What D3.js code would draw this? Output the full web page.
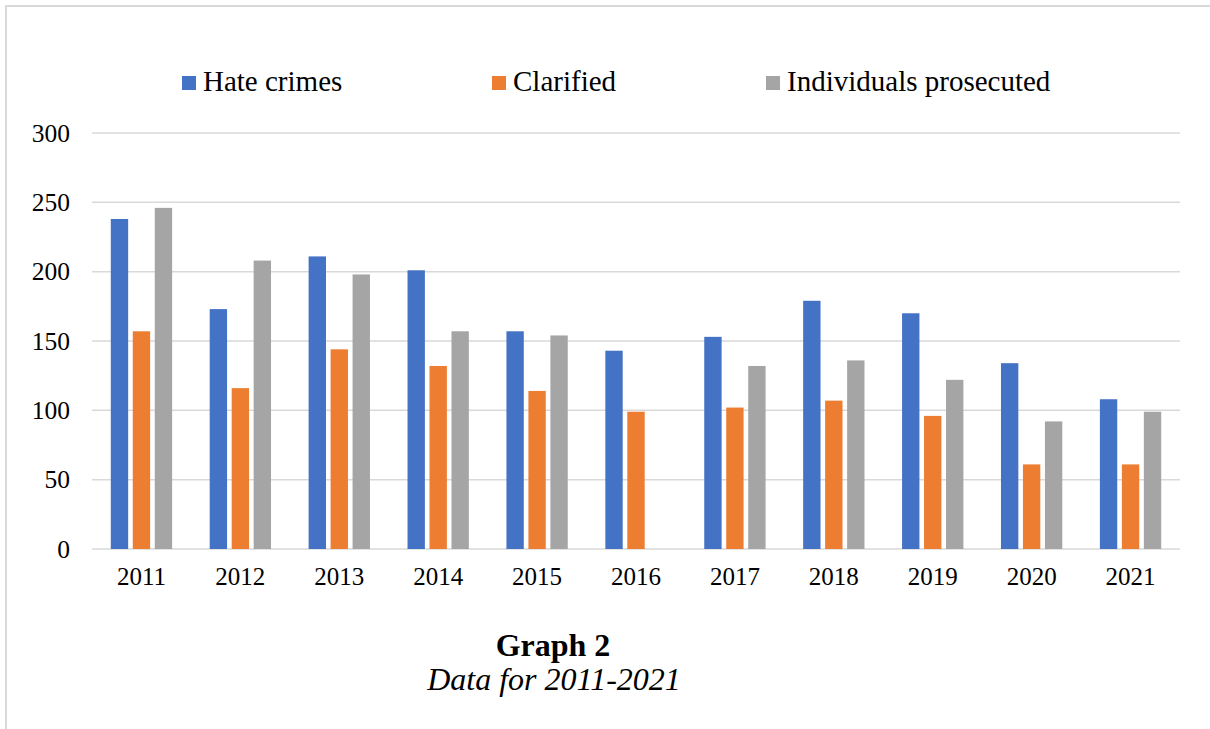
<!DOCTYPE html>
<html>
<head>
<meta charset="utf-8">
<script src="https://cdn.jsdelivr.net/npm/d3@7"></script>
<style>
  body { margin: 0; background: #fff; }
  text { font-family: "Liberation Serif", "Times New Roman", serif; fill: #000; }
</style>
</head>
<body>
<div id="chart-area"></div>
<script>
// data
const years = ['2011','2012','2013','2014','2015','2016','2017','2018','2019','2020','2021'];
const hateCrimes = [238, 173, 211, 201, 157, 143, 153, 179, 170, 134, 108];
const clarified = [157, 116, 144, 132, 114, 99, 102, 107, 96, 61, 61];
const prosecuted = [246, 208, 198, 157, 154, 0, 132, 136, 122, 92, 99];
const seriesNames = ['Hate crimes', 'Clarified', 'Individuals prosecuted'];
const yTicks = [0, 50, 100, 150, 200, 250, 300];

const colors = ['#4472C4', '#ED7D31', '#A5A5A5'];
const width = 1210, height = 729;
const plotLeft = 92, plotRight = 1180, plotTop = 133, plotBottom = 549;

const svg = d3.select('#chart-area').append('svg')
    .attr('width', width)
    .attr('height', height);

// outer frame (only top and left visible)
svg.append('rect')
    .attr('x', 6).attr('y', 6)
    .attr('width', width + 20).attr('height', height + 20)
    .attr('fill', 'none')
    .attr('stroke', '#d9d9d9')
    .attr('stroke-width', 2);

const y = d3.scaleLinear().domain([0, 300]).range([plotBottom, plotTop]);

const x0 = d3.scaleBand()
    .domain(years)
    .range([plotLeft, plotRight])
    .paddingInner(0.38)
    .paddingOuter(0.19);

const x1 = d3.scaleBand()
    .domain(seriesNames)
    .range([0, x0.bandwidth()])
    .paddingInner(0.21);

const color = d3.scaleOrdinal().domain(seriesNames).range(colors);

// gridlines
svg.append('g').selectAll('line')
    .data(yTicks)
    .join('line')
    .attr('x1', plotLeft).attr('x2', plotRight)
    .attr('y1', d => y(d)).attr('y2', d => y(d))
    .attr('stroke', '#d9d9d9')
    .attr('stroke-width', 1.5);

// y labels
svg.append('g').selectAll('text')
    .data(yTicks)
    .join('text')
    .attr('x', 70)
    .attr('y', d => y(d) + 8.5)
    .attr('text-anchor', 'end')
    .style('font-size', '25.5px')
    .text(d => d);

// bars
const rows = years.map((yr, i) => ({
    year: yr,
    vals: [hateCrimes[i], clarified[i], prosecuted[i]]
}));

const groups = svg.append('g').selectAll('g')
    .data(rows)
    .join('g')
    .attr('transform', d => `translate(${x0(d.year)},0)`);

groups.selectAll('rect')
    .data(d => d.vals.map((v, k) => ({name: seriesNames[k], value: v})))
    .join('rect')
    .attr('x', d => x1(d.name))
    .attr('y', d => y(d.value))
    .attr('width', x1.bandwidth())
    .attr('height', d => plotBottom - y(d.value))
    .attr('fill', d => color(d.name));

// x labels
svg.append('g').selectAll('text')
    .data(years)
    .join('text')
    .attr('x', d => x0(d) + x0.bandwidth() / 2)
    .attr('y', 585)
    .attr('text-anchor', 'middle')
    .style('font-size', '25px')
    .text(d => d);

// legend
const legendX = [182, 492, 766];
const legend = svg.append('g').selectAll('g')
    .data(seriesNames)
    .join('g')
    .attr('transform', (d, i) => `translate(${legendX[i]},76)`);

legend.append('rect')
    .attr('width', 14).attr('height', 14)
    .attr('fill', d => color(d));

legend.append('text')
    .attr('x', 21)
    .attr('y', 14.5)
    .style('font-size', '29px')
    .text(d => d);

// caption
svg.append('text')
    .attr('x', 553).attr('y', 656)
    .attr('text-anchor', 'middle')
    .style('font-size', '32px')
    .style('font-weight', 'bold')
    .text('Graph 2');

svg.append('text')
    .attr('x', 554).attr('y', 690)
    .attr('text-anchor', 'middle')
    .style('font-size', '32px')
    .style('font-style', 'italic')
    .text('Data for 2011-2021');
</script>
</body>
</html>
